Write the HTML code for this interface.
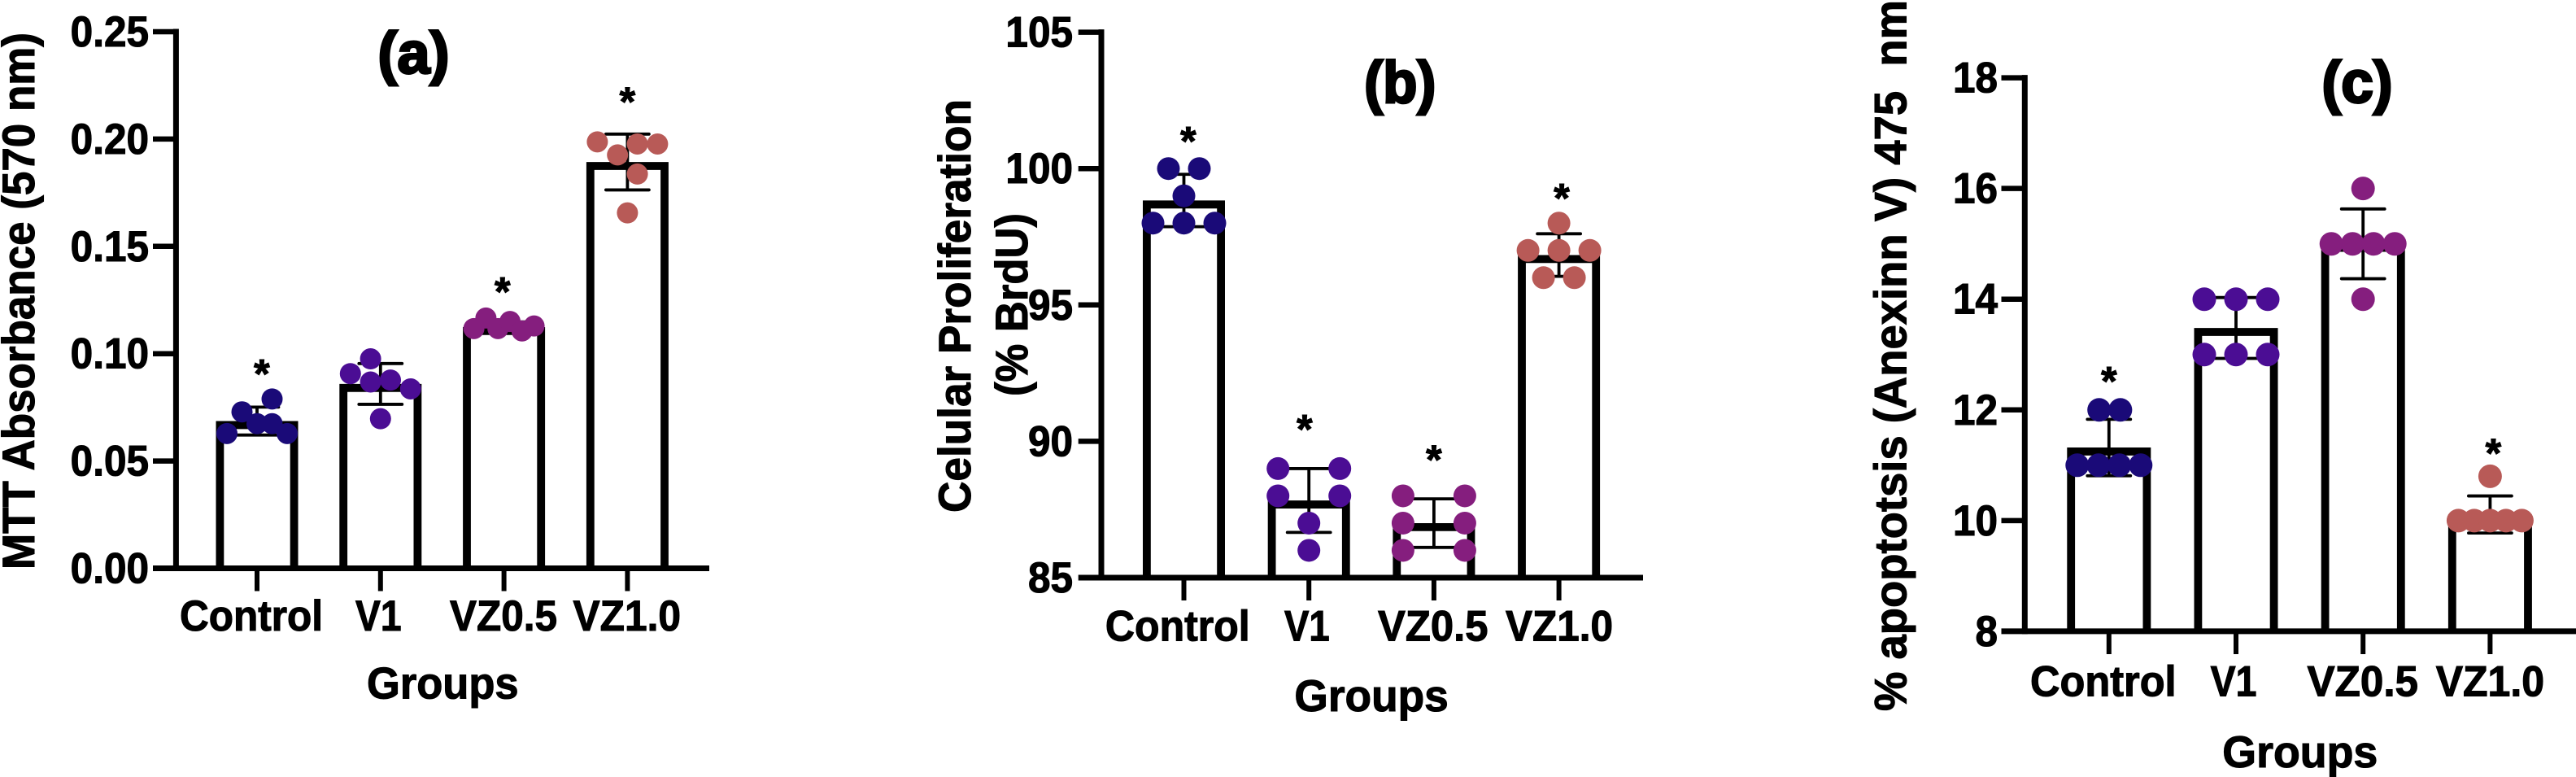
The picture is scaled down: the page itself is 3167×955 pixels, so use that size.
<!DOCTYPE html>
<html lang="en">
<head>
<meta charset="utf-8">
<title>MTT, BrdU and Annexin V group bar charts</title>
<style>
html,body{margin:0;padding:0;background:#fff;}
svg{display:block;}
text{font-family:"Liberation Sans",Arial,sans-serif;font-weight:bold;fill:#000;stroke:#000;stroke-width:1.1px;}
</style>
</head>
<body>
<svg id="figure" xmlns="http://www.w3.org/2000/svg" width="3167" height="955" viewBox="0 0 3167 955">
  <rect width="3167" height="955" fill="#fff"/>

  <g id="panel-a"></g>
  <g id="panel-b"></g>
  <g id="panel-c"></g>

  <text x="464.5" y="90" font-size="72" textLength="88" lengthAdjust="spacingAndGlyphs" style="stroke-width:3px">(a)</text>
  <text x="1677.3" y="126" font-size="72" textLength="88" lengthAdjust="spacingAndGlyphs" style="stroke-width:3px">(b)</text>
  <text x="2854.5" y="126" font-size="72" textLength="87" lengthAdjust="spacingAndGlyphs" style="stroke-width:3px">(c)</text>

  <text transform="translate(42,700) rotate(-90)" font-size="56" textLength="660" lengthAdjust="spacingAndGlyphs">MTT Absorbance (570 nm)</text>
  <text transform="translate(1193,630) rotate(-90)" font-size="56" textLength="508" lengthAdjust="spacingAndGlyphs">Celular Proliferation</text>
  <text transform="translate(1263,487) rotate(-90)" font-size="56" textLength="225" lengthAdjust="spacingAndGlyphs">(% BrdU)</text>
  <text transform="translate(2343.7,874) rotate(-90)" font-size="56" textLength="874" lengthAdjust="spacingAndGlyphs" xml:space="preserve">% apoptotsis (Anexinn V) 475  nm</text>

  <text x="451" y="858.7" font-size="55" textLength="186.6" lengthAdjust="spacingAndGlyphs">Groups</text>
  <text x="1591.4" y="874" font-size="55" textLength="189.4" lengthAdjust="spacingAndGlyphs">Groups</text>
  <text x="2732.3" y="942.8" font-size="55" textLength="191" lengthAdjust="spacingAndGlyphs">Groups</text>
</svg>

<script>
// ---- shared categories ----
var categories = ["Control", "V1", "VZ0.5", "VZ1.0"];
var categorySlugs = ["control", "v1", "vz0-5", "vz1-0"];

// ---- panel (a) MTT absorbance ----
var ticksA = [0, 0.05, 0.10, 0.15, 0.20, 0.25];
var tickLabelsA = ["0.00", "0.05", "0.10", "0.15", "0.20", "0.25"];
var meansA = [0.0686, 0.0859, 0.1124, 0.1893];
var sdA = [0.0065, 0.0095, 0.0024, 0.0130];
var pointsA = [
  [0.0789, 0.0729, 0.0674, 0.0674, 0.0628, 0.0628],
  [0.0976, 0.0907, 0.0868, 0.0877, 0.0836, 0.0697],
  [0.1117, 0.1166, 0.1117, 0.1150, 0.1106, 0.1129],
  [0.1987, 0.1926, 0.1977, 0.1977, 0.1837, 0.1656]
];
// swarm slot of each point: -1 = left edge of the swarm, 1 = right edge
var slotsA = [
  [0.5, -0.5, 0, 0.5, -1, 1],
  [-0.33, -1, -0.33, 0.33, 1, 0],
  [-1, -0.6, -0.2, 0.2, 0.6, 1],
  [-1, -0.33, 0.33, 1, 0.33, 0]
];
var starsA = [0.094, null, 0.1323, 0.2209];
var starSlotsA = [0.16, 0, -0.05, 0];

// ---- panel (b) cell proliferation ----
var ticksB = [85, 90, 95, 100, 105];
var tickLabelsB = ["85", "90", "95", "100", "105"];
var meansB = [98.83, 87.83, 87, 96.83];
var sdB = [0.96, 1.17, 0.89, 0.78];
var pointsB = [
  [100, 100, 99, 98, 98, 98],
  [89, 89, 88, 88, 87, 86],
  [88, 88, 87, 87, 86, 86],
  [98, 97, 97, 97, 96, 96]
];
var slotsB = [
  [-0.5, 0.5, 0, -1, 0, 1],
  [-1, 1, -1, 1, 0, 0],
  [-1, 1, -1, 1, -1, 1],
  [0, -1, 0, 1, -0.5, 0.5]
];
var starsB = [101.28, 90.72, 89.6, 99.19];
var starSlotsB = [0.14, -0.14, 0, 0.09];

// ---- panel (c) apoptosis ----
var ticksC = [8, 10, 12, 14, 16, 18];
var tickLabelsC = ["8", "10", "12", "14", "16", "18"];
var meansC = [11.32, 13.48, 15, 10.11];
var sdC = [0.51, 0.55, 0.63, 0.335];
var pointsC = [
  [12, 12, 11, 11, 11, 11],
  [14, 14, 14, 13, 13, 13],
  [16, 15, 15, 15, 15, 14],
  [10.8, 10, 10, 10, 10, 10]
];
var slotsC = [
  [-0.31, 0.36, -1, -0.33, 0.33, 1],
  [-1, 0, 1, -1, 0, 1],
  [0, -1, -0.33, 0.33, 1, 0],
  [0, -1, -0.5, 0, 0.5, 1]
];
var starsC = [12.65, null, null, 11.35];
var starSlotsC = [0, 0, 0, 0.1];

var dotColors = ["#1a0a78", "#4b0d94", "#851e7e", "#b85a57"];

var SVG_NS = "http://www.w3.org/2000/svg";

function mk(parent, tag, attrs, content) {
  var el = document.createElementNS(SVG_NS, tag);
  for (var k in attrs) { el.setAttribute(k, attrs[k]); }
  if (content !== undefined) { el.textContent = content; }
  parent.appendChild(el);
  return el;
}

function drawPanel(cfg, d) {
  var root = document.getElementById(cfg.id);
  var lo = d.ticks[0], hi = d.ticks[d.ticks.length - 1];
  function y(v) { return cfg.yBase + (v - lo) / (hi - lo) * (cfg.yTop - cfg.yBase); }
  function x(i) { return cfg.xFirst + i * cfg.xStep; }
  var n = cfg.name;

  d.cats.forEach(function (cat, i) {
    var slug = categorySlugs[i];
    var cx = x(i);
    var topY = y(d.means[i]);
    var halfInner = cfg.barW / 2 - 4.9;

    // open bar outline: the bottom edge is the x-axis itself
    var bar = mk(root, "path", {
      d: "M" + (cx - halfInner) + " " + cfg.yBase + "V" + (topY + 4.9) +
         "H" + (cx + halfInner) + "V" + cfg.yBase,
      fill: "#fff", stroke: "#000", "stroke-width": 9.8, "stroke-linejoin": "miter"
    });
    
    

    var errTop = y(d.means[i] + d.sd[i]);
    var errBot = y(d.means[i] - d.sd[i]);
    var err = mk(root, "path", {
      d: "M" + cx + " " + errTop + "V" + errBot +
         "M" + (cx - 26.5) + " " + errTop + "H" + (cx + 26.5) +
         "M" + (cx - 26.5) + " " + errBot + "H" + (cx + 26.5),
      fill: "none", stroke: "#000", "stroke-width": 3.8, "stroke-linecap": "round"
    });
    
    

    d.points[i].forEach(function (v, j) {
      var dot = mk(root, "circle", {
        cx: cx + d.slots[i][j] * cfg.swarm, cy: y(v), r: cfg.dotR, fill: dotColors[i]
      });
      
      
    });

    if (d.stars[i] !== null) {
      var star = mk(root, "text", {
        x: cx + d.starSlots[i] * cfg.swarm, y: y(d.stars[i]) + 26,
        "font-size": 50, "text-anchor": "middle"
      }, "*");
      
      
    }

    var tick = mk(root, "line", {
      x1: cx, x2: cx, y1: cfg.yBase, y2: cfg.xTickEnd, stroke: "#000", "stroke-width": 6
    });
    
    

    var label = mk(root, "text", {
      x: cfg.labelLeft[i], y: cfg.labelBase, "font-size": 53,
      textLength: cfg.labelLen[i], lengthAdjust: "spacingAndGlyphs"
    }, cat);
    
    
  });

  var yAxis = mk(root, "line", {
    x1: cfg.xAxis, x2: cfg.xAxis, y1: cfg.yTop - 3.5, y2: cfg.yBase + 3.5, stroke: "#000", "stroke-width": 7
  });
  
  

  var xAxis = mk(root, "line", {
    x1: cfg.yTickStart, x2: cfg.xEnd, y1: cfg.yBase, y2: cfg.yBase, stroke: "#000", "stroke-width": 7
  });
  
  

  d.ticks.forEach(function (t, i) {
    var ty = y(t);
    if (i > 0) {
      var tk = mk(root, "line", {
        x1: cfg.yTickStart, x2: cfg.xAxis, y1: ty, y2: ty, stroke: "#000", "stroke-width": 6.5
      });
      
      
    }
    var lab = d.tickLabels[i];
    var em = lab.length * 0.556 - (lab.indexOf(".") >= 0 ? 0.278 : 0);
    var tl = mk(root, "text", {
      x: cfg.tickRight, y: ty + 18, "font-size": 53, "text-anchor": "end",
      textLength: em * 49.5, lengthAdjust: "spacingAndGlyphs"
    }, lab);
    
    
  });
}

drawPanel({
  id: "panel-a", name: "panel-a",
  yBase: 698.5, yTop: 39, xFirst: 316, xStep: 151.8, barW: 101,
  swarm: 37, dotR: 13, xAxis: 216.4, yTickStart: 188, xEnd: 872, xTickEnd: 726.5,
  tickRight: 183, labelBase: 775,
  labelLeft: [221, 437, 553, 704.5], labelLen: [176, 56.6, 132, 132.5]
}, {
  cats: categories, ticks: ticksA, tickLabels: tickLabelsA, means: meansA, sd: sdA,
  points: pointsA, slots: slotsA, stars: starsA, starSlots: starSlotsA
});

drawPanel({
  id: "panel-b", name: "panel-b",
  yBase: 710, yTop: 39.6, xFirst: 1455.5, xStep: 153.7, barW: 101,
  swarm: 38, dotR: 14, xAxis: 1354, yTickStart: 1325.7, xEnd: 2020, xTickEnd: 738,
  tickRight: 1319, labelBase: 787.5,
  labelLeft: [1358.9, 1579, 1694, 1851], labelLen: [177.8, 55.7, 135.5, 132]
}, {
  cats: categories, ticks: ticksB, tickLabels: tickLabelsB, means: meansB, sd: sdB,
  points: pointsB, slots: slotsB, stars: starsB, starSlots: starSlotsB
});

drawPanel({
  id: "panel-c", name: "panel-c",
  yBase: 775.9, yTop: 95.6, xFirst: 2592.8, xStep: 156.2, barW: 103,
  swarm: 39, dotR: 14.5, xAxis: 2489.3, yTickStart: 2460.5, xEnd: 3167, xTickEnd: 804,
  tickRight: 2456, labelBase: 855.7,
  labelLeft: [2496, 2717.6, 2836.5, 2994.7], labelLen: [179.6, 56.8, 136.5, 133.3]
}, {
  cats: categories, ticks: ticksC, tickLabels: tickLabelsC, means: meansC, sd: sdC,
  points: pointsC, slots: slotsC, stars: starsC, starSlots: starSlotsC
});
</script>
</body>
</html>
